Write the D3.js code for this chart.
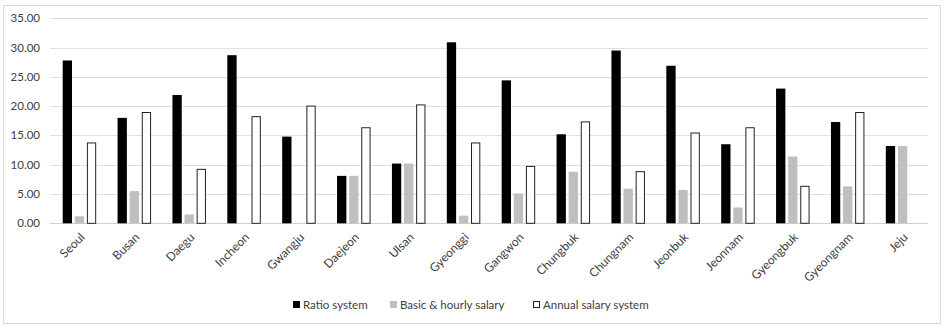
<!DOCTYPE html>
<html><head><meta charset="utf-8">
<script src="https://cdn.jsdelivr.net/npm/d3@7"></script>
<style>body{margin:0;background:#fff}svg{display:block}text{font-family:Lato,"Open Sans",sans-serif}</style>
</head><body><svg id="c" width="944" height="330"></svg>
<script>
const categories=["Seoul","Busan","Daegu","Incheon","Gwangju","Daejeon","Ulsan","Gyeonggi","Gangwon","Chungbuk","Chungnam","Jeonbuk","Jeonnam","Gyeongbuk","Gyeongnam","Jeju"];
const ratioSystem=[27.8,18.0,21.9,28.7,14.8,8.1,10.2,30.9,24.4,15.2,29.5,26.9,13.5,23.0,17.3,13.2];
const basicHourly=[1.2,5.5,1.5,0,0,8.1,10.2,1.3,5.1,8.8,5.9,5.7,2.7,11.4,6.3,13.2];
const annualSalary=[13.8,19.0,9.3,18.3,20.1,16.4,20.3,13.8,9.8,17.4,8.9,15.5,16.4,6.4,19.0,0];
const seriesNames=["Ratio system","Basic & hourly salary","Annual salary system"];
const yTicks=[0,5,10,15,20,25,30,35];

const svg=d3.select("#c");
svg.append("rect").attr("x",3.5).attr("y",5.5).attr("width",937).attr("height",318).attr("fill","#fff").attr("stroke","#d9d9d9");
const L=52,R=930,T=18.3,B=223.3;
const x=d3.scaleBand().domain(categories).range([L,R]);
const y=d3.scaleLinear().domain([0,35]).range([B,T]);
const g=svg.append("g");
g.selectAll("line.grid").data(yTicks).join("line").attr("x1",50).attr("x2",928).attr("y1",d=>Math.round(y(d))+0.5).attr("y2",d=>Math.round(y(d))+0.5).attr("stroke",d=>d===0?"#d0d0d0":"#e0e0e0").attr("stroke-width",1);
g.selectAll("text.yl").data(yTicks).join("text").attr("x",40).attr("y",d=>y(d)+4).attr("text-anchor","end").attr("font-size",11.5).attr("fill","#404040").text(d=>d.toFixed(2));
const series=[ratioSystem,basicHourly,annualSalary];
const fills=["#000","#bfbfbf","#fff"];
const strokes=["none","none","#222"];
const bw=9.3,step=12.1;
series.forEach((s,si)=>{
  g.selectAll("rect.s"+si).data(s).join("rect")
   .attr("x",(d,i)=>x(categories[i])+x.bandwidth()/2-(step*3-(step-bw))/2+si*step+(si===2?0.5:0))
   .attr("y",d=>y(d)+(si===2?0.5:0))
   .attr("width",si===2?bw-1:bw)
   .attr("height",d=>Math.max(0,B-y(d)-(si===2?0.5:0)))
   .attr("fill",fills[si]).attr("stroke",strokes[si]).attr("stroke-width",1)
   .attr("display",d=>d>0?null:"none");
});
const xa=g.append("g");
xa.selectAll("text").data(categories).join("text")
  .attr("transform",d=>`translate(${x(d)+x.bandwidth()/2+6},${238}) rotate(-45)`)
  .attr("text-anchor","end").attr("font-size",12).attr("fill","#404040").text(d=>d);
const leg=[{x:293,n:0},{x:390,n:1},{x:533,n:2}];
leg.forEach(l=>{
  svg.append("rect").attr("x",l.x+0.5).attr("y",301.5).attr("width",6).attr("height",6).attr("fill",fills[l.n]).attr("stroke",l.n===2?"#222":(l.n===0?"#000":"#bfbfbf")).attr("stroke-width",1);
  svg.append("text").attr("x",l.x+10).attr("y",309).attr("font-size",11.5).attr("fill","#404040").text(seriesNames[l.n]);
});
</script></body></html>
